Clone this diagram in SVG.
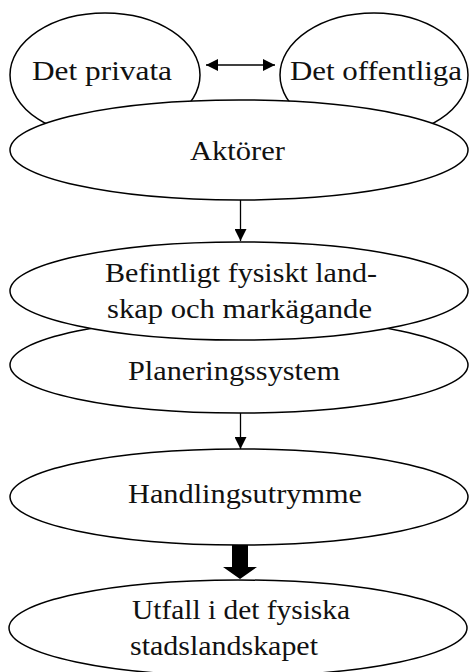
<svg xmlns="http://www.w3.org/2000/svg" width="469" height="672" viewBox="0 0 469 672">
<style>
.node ellipse{fill:#fff;stroke:#000;stroke-width:1.5}
.lbl{font-family:"Liberation Serif","Times New Roman",serif;font-size:28px;fill:#111}
.conn{stroke:#000;stroke-width:1.3;fill:none}
</style>
<defs>
<marker id="ah" markerUnits="userSpaceOnUse" markerWidth="12" markerHeight="12" refX="12" refY="6" orient="auto-start-reverse" viewBox="0 0 12 12">
<path d="M0,0 L12,6 L0,12 z" fill="#000"/>
</marker>
</defs>
<rect width="469" height="672" fill="#fff"/>
<g id="privata" class="node">
<ellipse cx="105" cy="75" rx="95" ry="62"/>
<text class="lbl" x="32" y="80" textLength="140" lengthAdjust="spacingAndGlyphs">Det privata</text>
</g>
<g id="offentliga" class="node">
<ellipse cx="374" cy="75" rx="94" ry="62"/>
<text class="lbl" x="290" y="80" textLength="172" lengthAdjust="spacingAndGlyphs">Det offentliga</text>
</g>
<g id="aktorer" class="node">
<ellipse cx="239" cy="150" rx="229" ry="50"/>
<text class="lbl" x="190" y="160" textLength="95" lengthAdjust="spacingAndGlyphs">Aktörer</text>
</g>
<g id="planeringssystem" class="node">
<ellipse cx="239" cy="365" rx="229" ry="48"/>
<text class="lbl" x="128" y="380" textLength="212" lengthAdjust="spacingAndGlyphs">Planeringssystem</text>
</g>
<g id="befintligt" class="node">
<ellipse cx="239" cy="291" rx="229" ry="49"/>
<text class="lbl" x="105" y="282" textLength="272" lengthAdjust="spacingAndGlyphs">Befintligt fysiskt land-</text>
<text class="lbl" x="107" y="318" textLength="265" lengthAdjust="spacingAndGlyphs">skap och markägande</text>
</g>
<g id="handlingsutrymme" class="node">
<ellipse cx="239" cy="497" rx="229" ry="48"/>
<text class="lbl" x="128" y="503" textLength="234" lengthAdjust="spacingAndGlyphs">Handlingsutrymme</text>
</g>
<g id="utfall" class="node">
<ellipse cx="238" cy="628" rx="229" ry="48"/>
<text class="lbl" x="132" y="619" textLength="218" lengthAdjust="spacingAndGlyphs">Utfall i det fysiska</text>
<text class="lbl" x="130" y="655" textLength="188" lengthAdjust="spacingAndGlyphs">stadslandskapet</text>
</g>
<g id="connectors">
<line class="conn" x1="206" y1="65" x2="275" y2="65" marker-start="url(#ah)" marker-end="url(#ah)"/>
<line class="conn" x1="240.5" y1="200" x2="240.5" y2="241" marker-end="url(#ah)"/>
<line class="conn" x1="240.5" y1="413" x2="240.5" y2="449" marker-end="url(#ah)"/>
<polygon points="232,545 248,545 248,567 257,567 240,579 223,567 232,567" fill="#000"/>
</g>
</svg>
